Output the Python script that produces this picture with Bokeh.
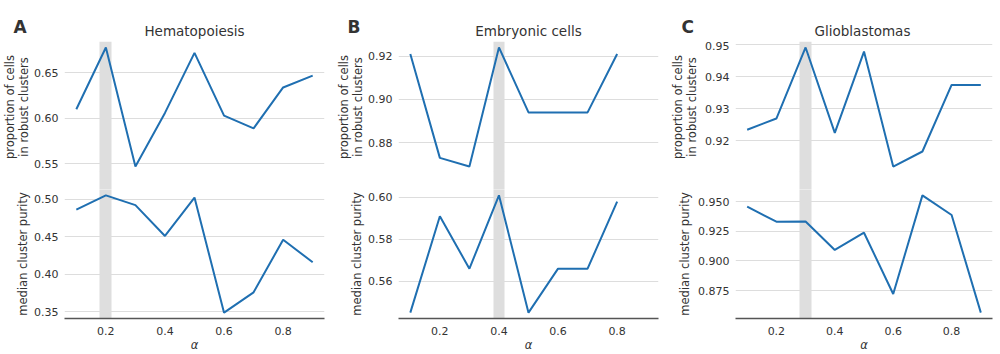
from bokeh.plotting import figure
from bokeh.layouts import row, column
from bokeh.models import Range1d, FixedTicker, PrintfTickFormatter
from bokeh.core.properties import value
from bokeh.embed import file_html
from bokeh.resources import INLINE

# ---------------- data ----------------
alpha = [0.1, 0.2, 0.3, 0.4, 0.5, 0.6, 0.7, 0.8, 0.9]
alpha_emb = [0.1, 0.2, 0.3, 0.4, 0.5, 0.6, 0.7, 0.8]

hema_prop = [0.610, 0.678, 0.547, 0.606, 0.672, 0.603, 0.589, 0.634, 0.647]
hema_purity = [0.486, 0.505, 0.492, 0.451, 0.502, 0.349, 0.376, 0.446, 0.416]

emb_prop = [0.921, 0.873, 0.869, 0.924, 0.894, 0.894, 0.894, 0.921]
emb_purity = [0.545, 0.591, 0.566, 0.601, 0.545, 0.566, 0.566, 0.598]

glio_prop = [0.9235, 0.9270, 0.9492, 0.9225, 0.9479, 0.9120, 0.9167, 0.9375, 0.9375]
glio_purity = [0.9459, 0.9332, 0.9334, 0.9093, 0.9239, 0.8721, 0.9555, 0.9389, 0.8563]

best_alpha = {"Hematopoiesis": 0.2, "Embryonic cells": 0.4, "Glioblastomas": 0.3}

x_ticks = [0.2, 0.4, 0.6, 0.8]
hema_prop_ticks = [0.55, 0.60, 0.65]
hema_purity_ticks = [0.35, 0.40, 0.45, 0.50]
emb_prop_ticks = [0.88, 0.90, 0.92]
emb_purity_ticks = [0.56, 0.58, 0.60]
glio_prop_ticks = [0.92, 0.93, 0.94, 0.95]
glio_purity_ticks = [0.875, 0.900, 0.925, 0.950]

# ---------------- style ----------------
LINE = "#1f6fb1"
BAND = "#dedede"
GRID = "#dddddd"
TXT = "#333333"
FONT = "DejaVu Sans"
BAND_HALF = 0.02
LEFT = 64
HEAD = 41

X_RANGE = (min(alpha) - 0.05 * (max(alpha) - min(alpha)),
           max(alpha) + 0.05 * (max(alpha) - min(alpha)))


def yrange(vals):
    lo, hi = min(vals), max(vals)
    m = 0.05 * (hi - lo)
    return Range1d(lo - m, hi + m)


def style_y(p, ticks, fmt, label, standoff, line_height):
    p.yaxis.ticker = FixedTicker(ticks=ticks)
    p.yaxis.formatter = PrintfTickFormatter(format=fmt)
    p.yaxis.axis_line_color = None
    p.yaxis.major_tick_line_color = None
    p.yaxis.minor_tick_line_color = None
    p.yaxis.major_tick_out = 0
    p.yaxis.major_tick_in = 0
    p.yaxis.major_label_standoff = 6
    p.yaxis.major_label_text_font = FONT
    p.yaxis.major_label_text_font_size = "11px"
    p.yaxis.major_label_text_color = TXT
    p.yaxis.axis_label = label
    p.yaxis.axis_label_text_font = FONT
    p.yaxis.axis_label_text_font_size = "11.5px"
    p.yaxis.axis_label_text_font_style = "normal"
    p.yaxis.axis_label_text_color = TXT
    p.yaxis.axis_label_text_line_height = line_height
    p.yaxis.axis_label_standoff = standoff
    p.ygrid.grid_line_color = GRID
    p.ygrid.grid_line_width = 1
    p.xgrid.visible = False
    p.outline_line_color = None


def make_column(letter, title, xs, prop, purity, prop_ticks, purity_ticks,
                prop_fmt, purity_fmt, width, right, st_top, st_bot):
    xr = Range1d(*X_RANGE)
    best = best_alpha[title]
    frame_w = width - LEFT - right

    # header: panel letter + title, drawn in a pixel-space frame (y grows downward)
    head = figure(width=width, height=HEAD, x_range=Range1d(0, width), y_range=Range1d(HEAD, 0),
                  output_backend="svg", toolbar_location=None,
                  x_axis_location=None, y_axis_location=None,
                  min_border_left=0, min_border_right=0, min_border_top=0, min_border_bottom=0)
    head.frame_align = False
    head.xgrid.visible = False
    head.ygrid.visible = False
    head.outline_line_color = None
    head.text(x=[13], y=[26], text=[letter], text_font=value(FONT), text_font_size="17px",
              text_font_style="bold", text_color=TXT, text_baseline="alphabetic", text_align="left")
    head.text(x=[LEFT + frame_w / 2], y=[30], text=[title], text_font=value(FONT),
              text_font_size="13.5px", text_color=TXT, text_baseline="alphabetic",
              text_align="center")

    top = figure(width=width, height=131, x_range=xr, y_range=yrange(prop),
                 output_backend="svg", toolbar_location=None,
                 x_axis_location=None, min_border_left=LEFT, min_border_right=right,
                 min_border_top=0, min_border_bottom=0)
    top.vstrip(x0=[best - BAND_HALF], x1=[best + BAND_HALF], fill_color=BAND, line_color=None)
    top.line(xs, prop, line_color=LINE, line_width=2)
    style_y(top, prop_ticks, prop_fmt, "proportion of cells\nin robust clusters", st_top, 1.0)

    gap = figure(width=width, height=19, x_range=xr, y_range=Range1d(0, 1),
                 output_backend="svg", toolbar_location=None,
                 x_axis_location=None, y_axis_location=None,
                 min_border_left=LEFT, min_border_right=right,
                 min_border_top=0, min_border_bottom=0, margin=(-1, 0, -1, 0))
    gap.vstrip(x0=[best - BAND_HALF], x1=[best + BAND_HALF], fill_color=BAND, line_color=None)
    gap.xgrid.visible = False
    gap.ygrid.visible = False
    gap.outline_line_color = None
    gap.background_fill_color = None
    gap.border_fill_color = None

    bot = figure(width=width, height=165, x_range=xr, y_range=yrange(purity),
                 output_backend="svg", toolbar_location=None,
                 min_border_left=LEFT, min_border_right=right,
                 min_border_top=0, min_border_bottom=36)
    bot.vstrip(x0=[best - BAND_HALF], x1=[best + BAND_HALF], fill_color=BAND, line_color=None)
    bot.line(xs, purity, line_color=LINE, line_width=2)
    style_y(bot, purity_ticks, purity_fmt, "median cluster purity", st_bot, 1.2)
    bot.xaxis.ticker = FixedTicker(ticks=x_ticks)
    bot.xaxis.formatter = PrintfTickFormatter(format="%.1f")
    bot.xaxis.axis_line_color = "#555555"
    bot.xaxis.axis_line_width = 1.3
    bot.xaxis.major_tick_line_color = None
    bot.xaxis.minor_tick_line_color = None
    bot.xaxis.major_tick_out = 0
    bot.xaxis.major_tick_in = 0
    bot.xaxis.major_label_standoff = 8
    bot.xaxis.major_label_text_font = FONT
    bot.xaxis.major_label_text_font_size = "11px"
    bot.xaxis.major_label_text_color = TXT
    bot.xaxis.axis_label = "α"
    bot.xaxis.axis_label_text_font = FONT
    bot.xaxis.axis_label_text_font_size = "11.5px"
    bot.xaxis.axis_label_text_font_style = "italic"
    bot.xaxis.axis_label_text_color = TXT
    bot.xaxis.axis_label_standoff = 0

    return column(head, top, gap, bot, spacing=0)


colA = make_column("A", "Hematopoiesis", alpha, hema_prop, hema_purity,
                   hema_prop_ticks, hema_purity_ticks, "%.2f", "%.2f", 334, 10, 0, 1)
colB = make_column("B", "Embryonic cells", alpha_emb, emb_prop, emb_purity,
                   emb_prop_ticks, emb_purity_ticks, "%.2f", "%.2f", 334, 10, 0, 1)
colC = make_column("C", "Glioblastomas", alpha, glio_prop, glio_purity,
                   glio_prop_ticks, glio_purity_ticks, "%.2f", "%.3f", 332, 8, 3, 3)

p = row(colA, colB, colC, spacing=0)

open("out.html", "w").write(file_html(p, INLINE))
